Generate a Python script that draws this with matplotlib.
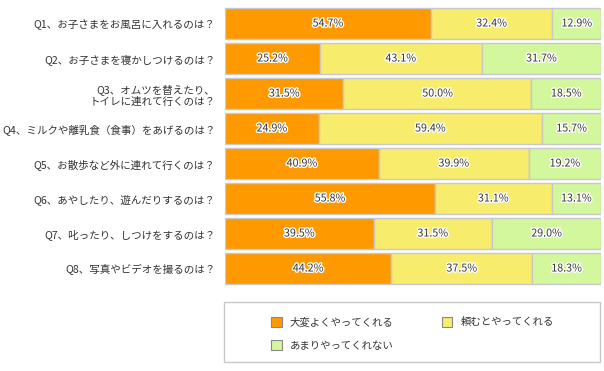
import numpy as np
import matplotlib.pyplot as plt
import matplotlib.patheffects as pe
from matplotlib.patches import Rectangle, Patch

plt.rcParams['font.family'] = ['Noto Sans CJK JP', 'DejaVu Sans']

# data
questions = ['Q1、お子さまをお風呂に入れるのは？',
             'Q2、お子さまを寝かしつけるのは？',
             'Q3、オムツを替えたり、\nトイレに連れて行くのは？',
             'Q4、ミルクや離乳食（食事）をあげるのは？',
             'Q5、お散歩など外に連れて行くのは？',
             'Q6、あやしたり、遊んだりするのは？',
             'Q7、叱ったり、しつけをするのは？',
             'Q8、写真やビデオを撮るのは？']
very_well = [54.7, 25.2, 31.5, 24.9, 40.9, 55.8, 39.5, 44.2]
when_asked = [32.4, 43.1, 50.0, 59.4, 39.9, 31.1, 31.5, 37.5]
not_much = [12.9, 31.7, 18.5, 15.7, 19.2, 13.1, 29.0, 18.3]
series_names = ['大変よくやってくれる', '頼むとやってくれる', 'あまりやってくれない']
colors = ['#FF9900', '#F8EC6C', '#D3F79C']

W, H = 604, 371
fig = plt.figure(figsize=(W / 100, H / 100), dpi=100)
ax = fig.add_axes([225 / W, 1 - 286 / H, 376 / W, 280 / H])

y = np.arange(len(questions))
left = np.zeros(len(questions))
halo = [pe.withStroke(linewidth=2, foreground='white')]
for vals, col in zip([very_well, when_asked, not_much], colors):
    vals = np.array(vals)
    ax.barh(y, vals, left=left, height=0.88, color=col,
            edgecolor='#c8c8c8', linewidth=1)
    for yi, l, v in zip(y, left, vals):
        ax.text(l + v / 2, yi, f'{v:.1f}%', ha='center', va='center',
                fontsize=7.7, color='#333333', path_effects=halo)
    left += vals

ax.set_xlim(0, 100)
ax.set_ylim(len(questions) - 0.5, -0.5)
ax.set_yticks(y)
ax.set_yticklabels(questions, fontsize=7.6, color='#333333', linespacing=1.2)
ax.tick_params(axis='y', length=0, pad=7)
ax.set_xticks([])
for s in ax.spines.values():
    s.set_visible(False)

# legend box
fig.patches.append(Rectangle((224 / W, 1 - 362 / H), 376 / W, 60 / H,
                             transform=fig.transFigure, facecolor='white',
                             edgecolor='#c8c8c8', linewidth=1))
handles = [Patch(facecolor=c, edgecolor='#888888', linewidth=0.8) for c in colors]
fig.legend([handles[0], handles[2], handles[1]],
           [series_names[0], series_names[2], series_names[1]],
           ncol=2, loc='upper left', bbox_to_anchor=(266 / W, 1 - 312 / H),
           frameon=False, fontsize=7.5, handlelength=1.0, handleheight=1.0,
           handletextpad=0.8, columnspacing=4.6, labelspacing=1.25,
           borderpad=0, labelcolor='#333333')

fig.savefig('out.png', dpi=100)
